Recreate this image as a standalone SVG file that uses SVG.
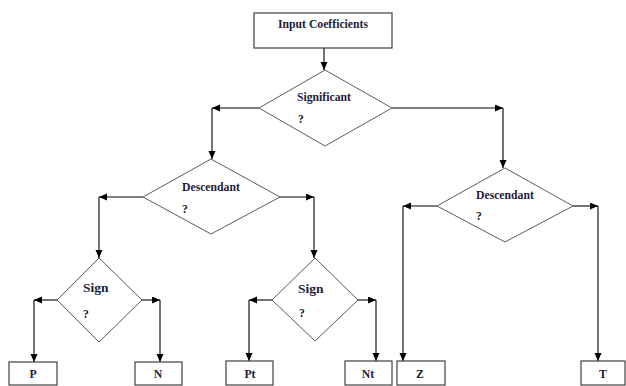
<svg xmlns="http://www.w3.org/2000/svg" width="626" height="386" viewBox="0 0 626 386">
<defs>
<marker id="ah" markerUnits="userSpaceOnUse" markerWidth="9" markerHeight="8" refX="8" refY="3.5" orient="auto">
<path d="M0,0 L8,3.5 L0,7 z" fill="#000"/>
</marker>
<style>
.box{fill:#fff;stroke:#404040;stroke-width:1.2}
.dia{fill:#fff;stroke:#5a5a5a;stroke-width:1}
.t{font-family:"Liberation Serif","Times New Roman",serif;font-weight:bold;font-size:11.7px;fill:#1c1c3c}
.s{font-size:13.5px}
.c{text-anchor:middle}
.ln{fill:none;stroke:#000;stroke-width:1.1;marker-end:url(#ah)}
</style>
</defs>
<rect width="626" height="386" fill="#fff"/>
<g id="connectors">
<line class="ln" x1="324" y1="48" x2="324" y2="70"/>
<line class="ln" x1="259" y1="108" x2="212" y2="108"/>
<line class="ln" x1="212" y1="108" x2="212" y2="159"/>
<line class="ln" x1="392" y1="108" x2="503" y2="108"/>
<line class="ln" x1="503" y1="108" x2="503" y2="168"/>
<line class="ln" x1="143" y1="197" x2="99" y2="197"/>
<line class="ln" x1="99" y1="197" x2="99" y2="258"/>
<line class="ln" x1="280" y1="197" x2="314" y2="197"/>
<line class="ln" x1="314" y1="197" x2="314" y2="258"/>
<line class="ln" x1="57" y1="300" x2="34" y2="300"/>
<line class="ln" x1="34" y1="300" x2="34" y2="362"/>
<line class="ln" x1="142" y1="300" x2="160" y2="300"/>
<line class="ln" x1="160" y1="300" x2="160" y2="362"/>
<line class="ln" x1="272" y1="300" x2="249" y2="300"/>
<line class="ln" x1="249" y1="300" x2="249" y2="361"/>
<line class="ln" x1="358" y1="300" x2="376" y2="300"/>
<line class="ln" x1="376" y1="300" x2="376" y2="361"/>
<line class="ln" x1="437" y1="206" x2="403" y2="206"/>
<line class="ln" x1="403" y1="206" x2="403" y2="361"/>
<line class="ln" x1="573" y1="206" x2="598" y2="206"/>
<line class="ln" x1="598" y1="206" x2="598" y2="361"/>
</g>
<g id="input">
<rect class="box" x="254" y="13" width="138" height="35"/>
<text class="t c" x="323" y="28">Input Coefficients</text>
</g>
<g id="significant">
<polygon class="dia" points="325,70 392,108 325,146 259,108"/>
<text class="t" x="297" y="101">Significant</text>
<text class="t" x="298" y="123">?</text>
</g>
<g id="descendant1">
<polygon class="dia" points="211,159 280,197 211,234 143,197"/>
<text class="t" x="182" y="191">Descendant</text>
<text class="t" x="182" y="213">?</text>
</g>
<g id="descendant2">
<polygon class="dia" points="505,168 573,206 505,242 437,206"/>
<text class="t" x="476" y="199">Descendant</text>
<text class="t" x="476" y="220">?</text>
</g>
<g id="sign1">
<polygon class="dia" points="99,258 142,300 99,342 57,300"/>
<text class="t s" x="83" y="292">Sign</text>
<text class="t" x="83" y="318">?</text>
</g>
<g id="sign2">
<polygon class="dia" points="315,258 358,300 315,341 272,300"/>
<text class="t s" x="298" y="293">Sign</text>
<text class="t" x="299" y="317">?</text>
</g>
<g id="P"><rect class="box" x="9" y="362" width="48" height="23"/><text class="t c" x="33" y="378">P</text></g>
<g id="N"><rect class="box" x="135" y="362" width="47" height="23"/><text class="t c" x="158" y="378">N</text></g>
<g id="Pt"><rect class="box" x="226" y="361" width="47" height="24"/><text class="t c" x="250" y="378">Pt</text></g>
<g id="Nt"><rect class="box" x="345" y="361" width="47" height="24"/><text class="t c" x="368" y="378">Nt</text></g>
<g id="Z"><rect class="box" x="397" y="361" width="48" height="24"/><text class="t c" x="420" y="378">Z</text></g>
<g id="T"><rect class="box" x="581" y="361" width="44" height="24"/><text class="t c" x="603" y="378">T</text></g>
</svg>
